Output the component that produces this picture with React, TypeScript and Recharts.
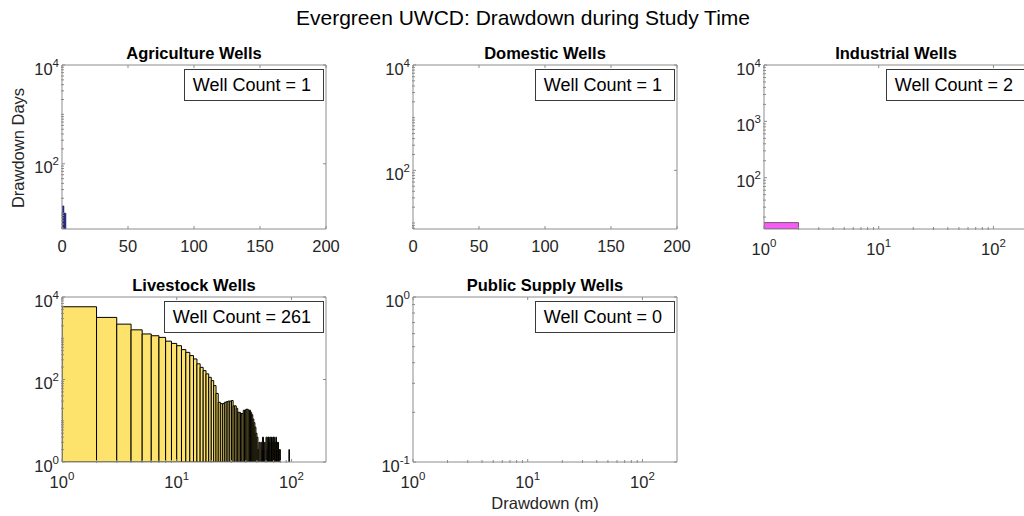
import React from 'react';
import { ComposedChart, XAxis, YAxis, ReferenceArea } from 'recharts';

const FONT = '"Liberation Sans", Arial, Helvetica, sans-serif';
const AXIS = '#8c8c8c';
const TXT = '#262626';

// ---------- data ----------
const mainTitle = 'Evergreen UWCD: Drawdown during Study Time';
const yLabel = 'Drawdown Days';
const xLabel = 'Drawdown (m)';
const panelTitles = ['Agriculture Wells', 'Domestic Wells', 'Industrial Wells', 'Livestock Wells', 'Public Supply Wells'];
const wellCounts = [1, 1, 2, 261, 0];

const agricultureBinLo = [0, 1.5];
const agricultureBinHi = [1.5, 3];
const agricultureDays = [14, 10];

const domesticBinLo: number[] = [];
const domesticBinHi: number[] = [];
const domesticDays: number[] = [];

const industrialBinLo = [1];
const industrialBinHi = [2];
const industrialDays = [16];

const livestockBinLo = [
  1, 2, 3, 4, 5, 6, 7, 8, 9, 10, 11, 12, 13, 14, 15, 16, 17, 18, 19, 20,
  21, 22, 23, 24, 25, 26, 27, 28, 29, 30, 31, 32, 33, 34, 35, 36, 37, 38, 39, 40,
  41, 42, 43, 44, 45, 46, 47, 48, 49, 50, 51, 52, 53, 54, 55, 56, 57, 58, 59, 60,
  61, 62, 63, 64, 65, 66, 67, 68, 69, 70, 71, 72, 73, 74, 75, 76, 77, 78, 79, 80, 95,
];
const livestockBinHi = [
  2, 3, 4, 5, 6, 7, 8, 9, 10, 11, 12, 13, 14, 15, 16, 17, 18, 19, 20, 21,
  22, 23, 24, 25, 26, 27, 28, 29, 30, 31, 32, 33, 34, 35, 36, 37, 38, 39, 40, 41,
  42, 43, 44, 45, 46, 47, 48, 49, 50, 51, 52, 53, 54, 55, 56, 57, 58, 59, 60, 61,
  62, 63, 64, 65, 66, 67, 68, 69, 70, 71, 72, 73, 74, 75, 76, 77, 78, 79, 80, 81, 96,
];
const livestockDays = [
  5800, 3200, 2200, 1600, 1270, 1150, 1050, 850, 750, 660, 530, 455, 380, 315, 240, 197, 164, 137, 113, 94,
  71, 46, 28, 26, 26, 28, 29, 30, 30, 31, 23, 23, 20, 16, 16, 15, 15, 18, 18, 19,
  19, 18, 18, 16, 14, 11, 9, 7, 5, 4, 2, 3, 1, 3, 2, 4, 2, 3, 1, 4,
  2, 4, 4, 3, 4, 2, 4, 3, 4, 4, 2, 3, 4, 2, 3, 3, 2, 2, 2, 1, 2,
];

const publicBinLo: number[] = [];
const publicBinHi: number[] = [];
const publicDays: number[] = [];

const linearXTicks = [0, 50, 100, 150, 200];
const logXTicks = [1, 10, 100];
const logXMinorTicks = [2, 3, 4, 5, 6, 7, 8, 9, 20, 30, 40, 50, 60, 70, 80, 90];
const yMinorCandidates = [
  0.2, 0.3, 0.4, 0.5, 0.6, 0.7, 0.8, 0.9, 2, 3, 4, 5, 6, 7, 8, 9, 10,
  20, 30, 40, 50, 60, 70, 80, 90, 200, 300, 400, 500, 600, 700, 800, 900, 1000,
  2000, 3000, 4000, 5000, 6000, 7000, 8000, 9000,
];

const agricultureYDomain = [4.77, 10000];
const domesticYDomain = [7.7, 10000];
const industrialYDomain = [12.3, 10000];
const livestockYDomain = [1, 10000];
const publicYDomain = [0.1, 1];

const agricultureYTicks = [100, 10000];
const domesticYTicks = [100, 10000];
const industrialYTicks = [100, 1000, 10000];
const livestockYTicks = [1, 100, 10000];
const publicYTicks = [0.1, 1];

// ---------- ticks ----------
const NoTick = () => <g />;

const expOf = (v: number) => String(Math.round(Math.log10(v)));

const LogTickX = (p: any) => (
  <text x={p.x} y={p.y + 25.5} textAnchor="middle" fill={TXT} fontSize={16.5} fontFamily={FONT}>
    10<tspan dy={-8} fontSize={11.5}>{expOf(p.payload.value)}</tspan>
  </text>
);
const LinTickX = (p: any) => (
  <text x={p.x} y={p.y + 22.5} textAnchor="middle" fill={TXT} fontSize={16.5} fontFamily={FONT}>
    {p.payload.value}
  </text>
);
const LogTickY = (p: any) => (
  <text x={p.x - 3} y={p.y + 9.5} textAnchor="end" fill={TXT} fontSize={16.5} fontFamily={FONT}>
    10<tspan dy={-8} fontSize={11.5}>{expOf(p.payload.value)}</tspan>
  </text>
);

type PanelCfg = {
  left: number; top: number; w: number; h: number;
  title: string; count: number; xLog: boolean;
  yDomain: number[]; yTicks: number[];
  lo: number[]; hi: number[]; days: number[];
  fill: string; stroke: string; sw: number;
};

const ML = 60, MT = 10, MR = 25, MB = 45;

function Panel({ c }: { c: PanelCfg }) {
  const xDomain: [number, number] = c.xLog ? [1, 200] : [0, 200];
  const xScale: any = c.xLog ? 'log' : 'linear';
  const yDomain: [number, number] = [c.yDomain[0], c.yDomain[1]];
  const xTicks = c.xLog ? logXTicks : linearXTicks;
  const xMinor = c.xLog ? logXMinorTicks : [];
  const yMinor = yMinorCandidates.filter(
    (t) => t > c.yDomain[0] && t < c.yDomain[1] && c.yTicks.indexOf(t) < 0
  );
  const data = c.lo.map((l, i) => ({ lo: l, hi: c.hi[i], v: c.days[i] }));
  return (
    <>
      <div style={{ position: 'absolute', left: c.left - ML, top: c.top - MT }}>
        <ComposedChart
          width={ML + c.w + MR}
          height={MT + c.h + MB}
          margin={{ top: MT, right: MR, bottom: MB - 2, left: ML - 1 }}
          data={data}
        >
          <XAxis xAxisId={0} dataKey="lo" type="number" scale={xScale} domain={xDomain} ticks={xTicks}
            allowDataOverflow interval={0}
            height={1} tickSize={-3} tickMargin={3}
            axisLine={{ stroke: AXIS }} tickLine={{ stroke: AXIS }}
            tick={c.xLog ? LogTickX : LinTickX} />
          <XAxis xAxisId="bm" dataKey="lo" type="number" scale={xScale} domain={xDomain} ticks={xMinor.length ? xMinor : xTicks}
            allowDataOverflow interval={0}
            height={1} tickSize={xMinor.length ? -3 : 0} axisLine={false} tickLine={{ stroke: AXIS }} tick={NoTick} />
          <XAxis xAxisId="top" orientation="top" dataKey="lo" type="number" scale={xScale} domain={xDomain} ticks={xTicks}
            allowDataOverflow interval={0}
            height={1} tickSize={-3} axisLine={{ stroke: AXIS }} tickLine={{ stroke: AXIS }} tick={NoTick} />
          <YAxis yAxisId={0} dataKey="v" type="number" scale="log" domain={yDomain} ticks={c.yTicks}
            allowDataOverflow interval={0}
            width={1} tickSize={-3} tickMargin={3}
            axisLine={{ stroke: AXIS }} tickLine={{ stroke: AXIS }} tick={LogTickY} />
          <YAxis yAxisId="lm" dataKey="v" type="number" scale="log" domain={yDomain} ticks={yMinor}
            allowDataOverflow interval={0}
            width={1} tickSize={-3} axisLine={false} tickLine={{ stroke: AXIS }} tick={NoTick} />
          <YAxis yAxisId="right" orientation="right" dataKey="v" type="number" scale="log" domain={yDomain} ticks={c.yTicks}
            allowDataOverflow interval={0}
            width={1} tickSize={-3} axisLine={{ stroke: AXIS }} tickLine={{ stroke: AXIS }} tick={NoTick} />
          {data.map((d, i) => (
            <ReferenceArea
              key={i}
              xAxisId={0}
              yAxisId={0}
              x1={d.lo}
              x2={d.hi}
              y1={c.yDomain[0]}
              y2={d.v}
              fill={c.fill}
              fillOpacity={1}
              stroke={c.stroke}
              strokeWidth={c.sw}
              ifOverflow="hidden"
            />
          ))}
        </ComposedChart>
      </div>
      <div
        style={{
          position: 'absolute', left: c.left, width: c.w, top: c.top - 21.5, height: 20,
          lineHeight: '20px', textAlign: 'center', fontWeight: 'bold', fontSize: 16.5, color: '#000',
          whiteSpace: 'nowrap',
        }}
      >
        {c.title}
      </div>
      <div
        style={{
          position: 'absolute', right: 1024 - (c.left + c.w - 3), top: c.top + 5, height: 30,
          lineHeight: '30px', border: '1px solid #3a3a3a', background: '#fff', padding: '0 12px 0 8px',
          fontSize: 18, color: '#000', whiteSpace: 'nowrap',
        }}
      >
        {'Well Count = ' + c.count}
      </div>
    </>
  );
}

const panels: PanelCfg[] = [
  { left: 61, top: 64, w: 266, h: 165, title: panelTitles[0], count: wellCounts[0], xLog: false,
    yDomain: agricultureYDomain, yTicks: agricultureYTicks,
    lo: agricultureBinLo, hi: agricultureBinHi, days: agricultureDays, fill: '#2f3196', stroke: '#15153d', sw: 0.5 },
  { left: 412, top: 64, w: 266, h: 165, title: panelTitles[1], count: wellCounts[1], xLog: false,
    yDomain: domesticYDomain, yTicks: domesticYTicks,
    lo: domesticBinLo, hi: domesticBinHi, days: domesticDays, fill: '#e8a020', stroke: '#222', sw: 0.5 },
  { left: 763, top: 64, w: 266, h: 165, title: panelTitles[2], count: wellCounts[2], xLog: true,
    yDomain: industrialYDomain, yTicks: industrialYTicks,
    lo: industrialBinLo, hi: industrialBinHi, days: industrialDays, fill: '#f55df5', stroke: '#222', sw: 0.6 },
  { left: 61, top: 296, w: 266, h: 166, title: panelTitles[3], count: wellCounts[3], xLog: true,
    yDomain: livestockYDomain, yTicks: livestockYTicks,
    lo: livestockBinLo, hi: livestockBinHi, days: livestockDays, fill: '#fde36b', stroke: '#000', sw: 1 },
  { left: 412, top: 296, w: 266, h: 166, title: panelTitles[4], count: wellCounts[4], xLog: true,
    yDomain: publicYDomain, yTicks: publicYTicks,
    lo: publicBinLo, hi: publicBinHi, days: publicDays, fill: '#4dbeee', stroke: '#222', sw: 0.5 },
];

export default function App() {
  return (
    <div
      style={{
        position: 'absolute', left: 0, top: 0, width: 1024, height: 516, overflow: 'hidden',
        background: '#fff', fontFamily: FONT,
      }}
    >
      <div
        style={{
          position: 'absolute', left: 523 - 400, width: 800, top: 6, height: 24, lineHeight: '24px',
          textAlign: 'center', fontSize: 21, color: '#000',
        }}
      >
        {mainTitle}
      </div>
      {panels.map((p, i) => (
        <Panel key={i} c={p} />
      ))}
      <div
        style={{
          position: 'absolute', left: 18 - 100, top: 148 - 10, width: 200, height: 20, lineHeight: '20px',
          textAlign: 'center', fontSize: 16.5, color: TXT, transform: 'rotate(-90deg)',
        }}
      >
        {yLabel}
      </div>
      <div
        style={{
          position: 'absolute', left: 545 - 100, top: 503 - 10, width: 200, height: 20, lineHeight: '20px',
          textAlign: 'center', fontSize: 16.5, color: TXT,
        }}
      >
        {xLabel}
      </div>
    </div>
  );
}
